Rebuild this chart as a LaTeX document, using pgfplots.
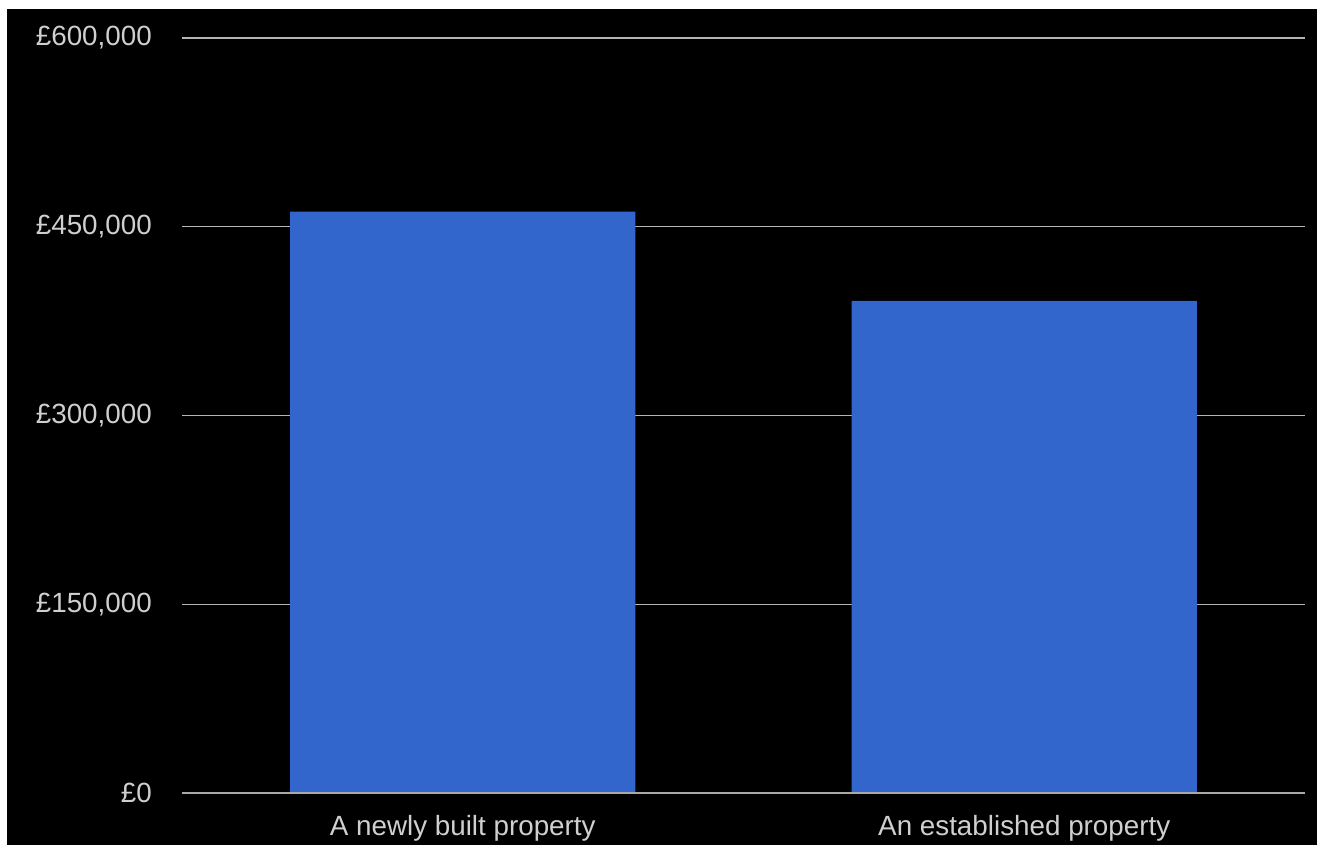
\documentclass[border=0pt]{standalone}
\usepackage{fontspec}
\setmainfont{Liberation Sans}
\usepackage{pgfplots}
\pgfplotsset{compat=1.18}
\definecolor{barblue}{HTML}{3366CC}
\definecolor{txt}{HTML}{CFCFCF}
\definecolor{gridc}{HTML}{B4B4B4}
\definecolor{basec}{HTML}{A8A8A8}
\begin{document}
\begin{tikzpicture}[x=1pt,y=1pt]
\fill[white] (0,0) rectangle (1317,845);
\fill[black] (7,-2) rectangle (1320,836);
\begin{axis}[
  at={(182pt,52pt)}, anchor=south west,
  scale only axis, width=1123pt, height=755pt,
  xmin=-0.5, xmax=1.5, ymin=0, ymax=600000,
  axis line style={draw=none},
  ybar, bar width=0.615,
  scaled y ticks=false,
  xtick={0,1}, xticklabels={A newly built property, An established property},
  ytick={0,150000,300000,450000,600000},
  yticklabels={{\pounds0}, {\pounds150,000}, {\pounds300,000}, {\pounds450,000}, {\pounds600,000}},
  ymajorgrids, grid style={gridc, line width=1.4pt},
  major tick length=0pt,
  tick label style={font=\fontsize{27.8}{32}\selectfont, text=txt},
  yticklabel style={anchor=east, inner sep=0pt, xshift=-30pt},
  xticklabel style={anchor=base, inner sep=0pt, yshift=-43pt},
  clip=false,
]
\addplot[fill=barblue, draw=none] coordinates {(0,462000) (1,391000)};
\draw[basec, line width=1.6pt] (axis cs:-0.5,0) -- (axis cs:1.5,0);
\end{axis}
\pgfresetboundingbox
\useasboundingbox (0,0) rectangle (1317,845);
\end{tikzpicture}
\end{document}
